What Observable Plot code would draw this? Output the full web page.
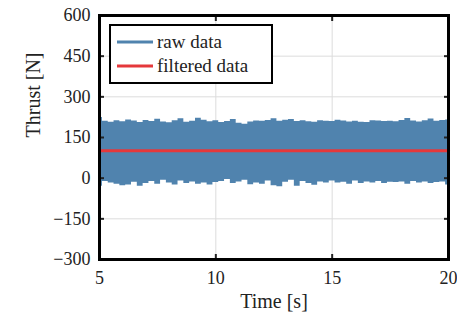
<!DOCTYPE html>
<html><head><meta charset="utf-8">
<script src="https://cdn.jsdelivr.net/npm/d3@7"></script>
<script src="https://cdn.jsdelivr.net/npm/@observablehq/plot@0.6"></script>
<style>
body{margin:0;background:#fff;}
#chart{position:relative;width:457px;height:323px;}
svg, svg text{font-family:"Liberation Serif",serif !important;}
</style>
</head><body><div id="chart"></div>
<script>
// Time samples of the raw-data envelope [s]
const rawTime = [5,5.25,5.5,5.75,6,6.25,6.5,6.75,7,7.25,7.5,7.75,8,8.25,8.5,8.75,9,9.25,9.5,9.75,
  10,10.25,10.5,10.75,11,11.25,11.5,11.75,12,12.25,12.5,12.75,13,13.25,13.5,13.75,14,14.25,14.5,14.75,
  15,15.25,15.5,15.75,16,16.25,16.5,16.75,17,17.25,17.5,17.75,18,18.25,18.5,18.75,19,19.25,19.5,19.75,20];
// Upper and lower envelope of raw thrust [N]
const rawUpper = [224,210,206,212,208,215,211,205,213,209,217,207,204,212,219,206,210,221,214,208,
  212,205,209,216,203,199,207,211,210,213,219,210,214,216,209,212,208,206,212,210,
  209,214,211,207,210,206,205,212,211,209,210,208,213,220,211,207,212,218,210,213,215];
const rawLower = [-30,-12,-18,-22,-28,-25,-15,-30,-20,-12,-22,-8,-18,-25,-10,-20,-14,-22,-18,-25,
  -16,-12,-5,-20,-14,-8,-24,-18,-22,-10,-28,-32,-15,-8,-30,-12,-20,-26,-14,-18,
  -10,-18,-15,-22,-10,-20,-14,-18,-12,-20,-15,-16,-14,-22,-12,-18,-14,-20,-16,-14,-25];
// Filtered thrust [N]
const filteredTime = [5, 20];
const filteredThrust = [101, 101];
// Ticks and labels
const xTicks = [5, 10, 15, 20];
const yTicks = [-300, -150, 0, 150, 300, 450, 600];
const seriesNames = ["raw data", "filtered data"];
const xLabel = "Time [s]";
const yLabel = "Thrust [N]";

const blue = "#5083ae", red = "#e5383b";
const FONT = "Liberation Serif";
const rawTable = rawTime.map((t, i) => ({t, lo: rawLower[i], hi: rawUpper[i]}));
const filtTable = filteredTime.map((t, i) => ({t, v: filteredThrust[i]}));

const W = 457, H = 323, ML = 99, MR = 9, MT = 15, MB = 64;
const plot = Plot.plot({
  width: W, height: H,
  marginLeft: ML, marginRight: MR, marginTop: MT, marginBottom: MB,
  style: {fontFamily: FONT, fontSize: "18px", color: "#222", background: "#fff"},
  x: {domain: [5, 20], label: null},
  y: {domain: [-300, 600], label: null},
  marks: [
    Plot.gridX(xTicks, {stroke: "#dcdcdc", strokeOpacity: 1}),
    Plot.gridY(yTicks, {stroke: "#dcdcdc", strokeOpacity: 1}),
    Plot.areaY(rawTable, {x: "t", y1: "lo", y2: "hi", fill: blue, curve: "step"}),
    Plot.lineY(filtTable, {x: "t", y: "v", stroke: red, strokeWidth: 3}),
    Plot.axisX({ticks: xTicks, tickSize: 0, tickPadding: 12, fontSize: 18, fontFamily: FONT}),
    Plot.axisY({ticks: yTicks, tickSize: 0, tickPadding: 9, fontSize: 18, fontFamily: FONT}),
    Plot.axisX({ticks: xTicks, tickSize: -5, text: null, anchor: "bottom", strokeWidth: 2}),
    Plot.axisX({ticks: xTicks, tickSize: -5, text: null, anchor: "top", strokeWidth: 2}),
    Plot.axisY({ticks: yTicks, tickSize: -5, text: null, anchor: "left", strokeWidth: 2}),
    Plot.axisY({ticks: yTicks, tickSize: -5, text: null, anchor: "right", strokeWidth: 2}),
    Plot.frame({stroke: "#000", strokeWidth: 3}),
    Plot.text([xLabel], {frameAnchor: "bottom", dy: 48, fontSize: 20, fill: "#222", fontFamily: FONT}),
    Plot.text([yLabel], {frameAnchor: "left", dx: -66, rotate: -90, fontSize: 20, fill: "#222", fontFamily: FONT})
  ]
});
document.getElementById("chart").appendChild(plot);

// Legend (inside the plot, top-left)
const svg = d3.select(plot);
const lg = svg.append("g").attr("transform", `translate(${ML + 11},${MT + 10})`)
  .attr("text-anchor", "start").attr("font-family", FONT);
lg.append("rect").attr("x", 0).attr("y", 0).attr("width", 162).attr("height", 58)
  .attr("fill", "#fff").attr("stroke", "#000").attr("stroke-width", 2);
[blue, red].forEach((c, i) => {
  const yy = 17 + i * 24;
  lg.append("line").attr("x1", 7).attr("x2", 43).attr("y1", yy).attr("y2", yy)
    .attr("stroke", c).attr("stroke-width", 3);
  lg.append("text").attr("x", 47).attr("y", yy).attr("dy", "0.32em")
    .attr("text-anchor", "start").style("font-family", FONT)
    .attr("font-size", 19).attr("fill", "#222").text(seriesNames[i]);
});
</script>
</body></html>
